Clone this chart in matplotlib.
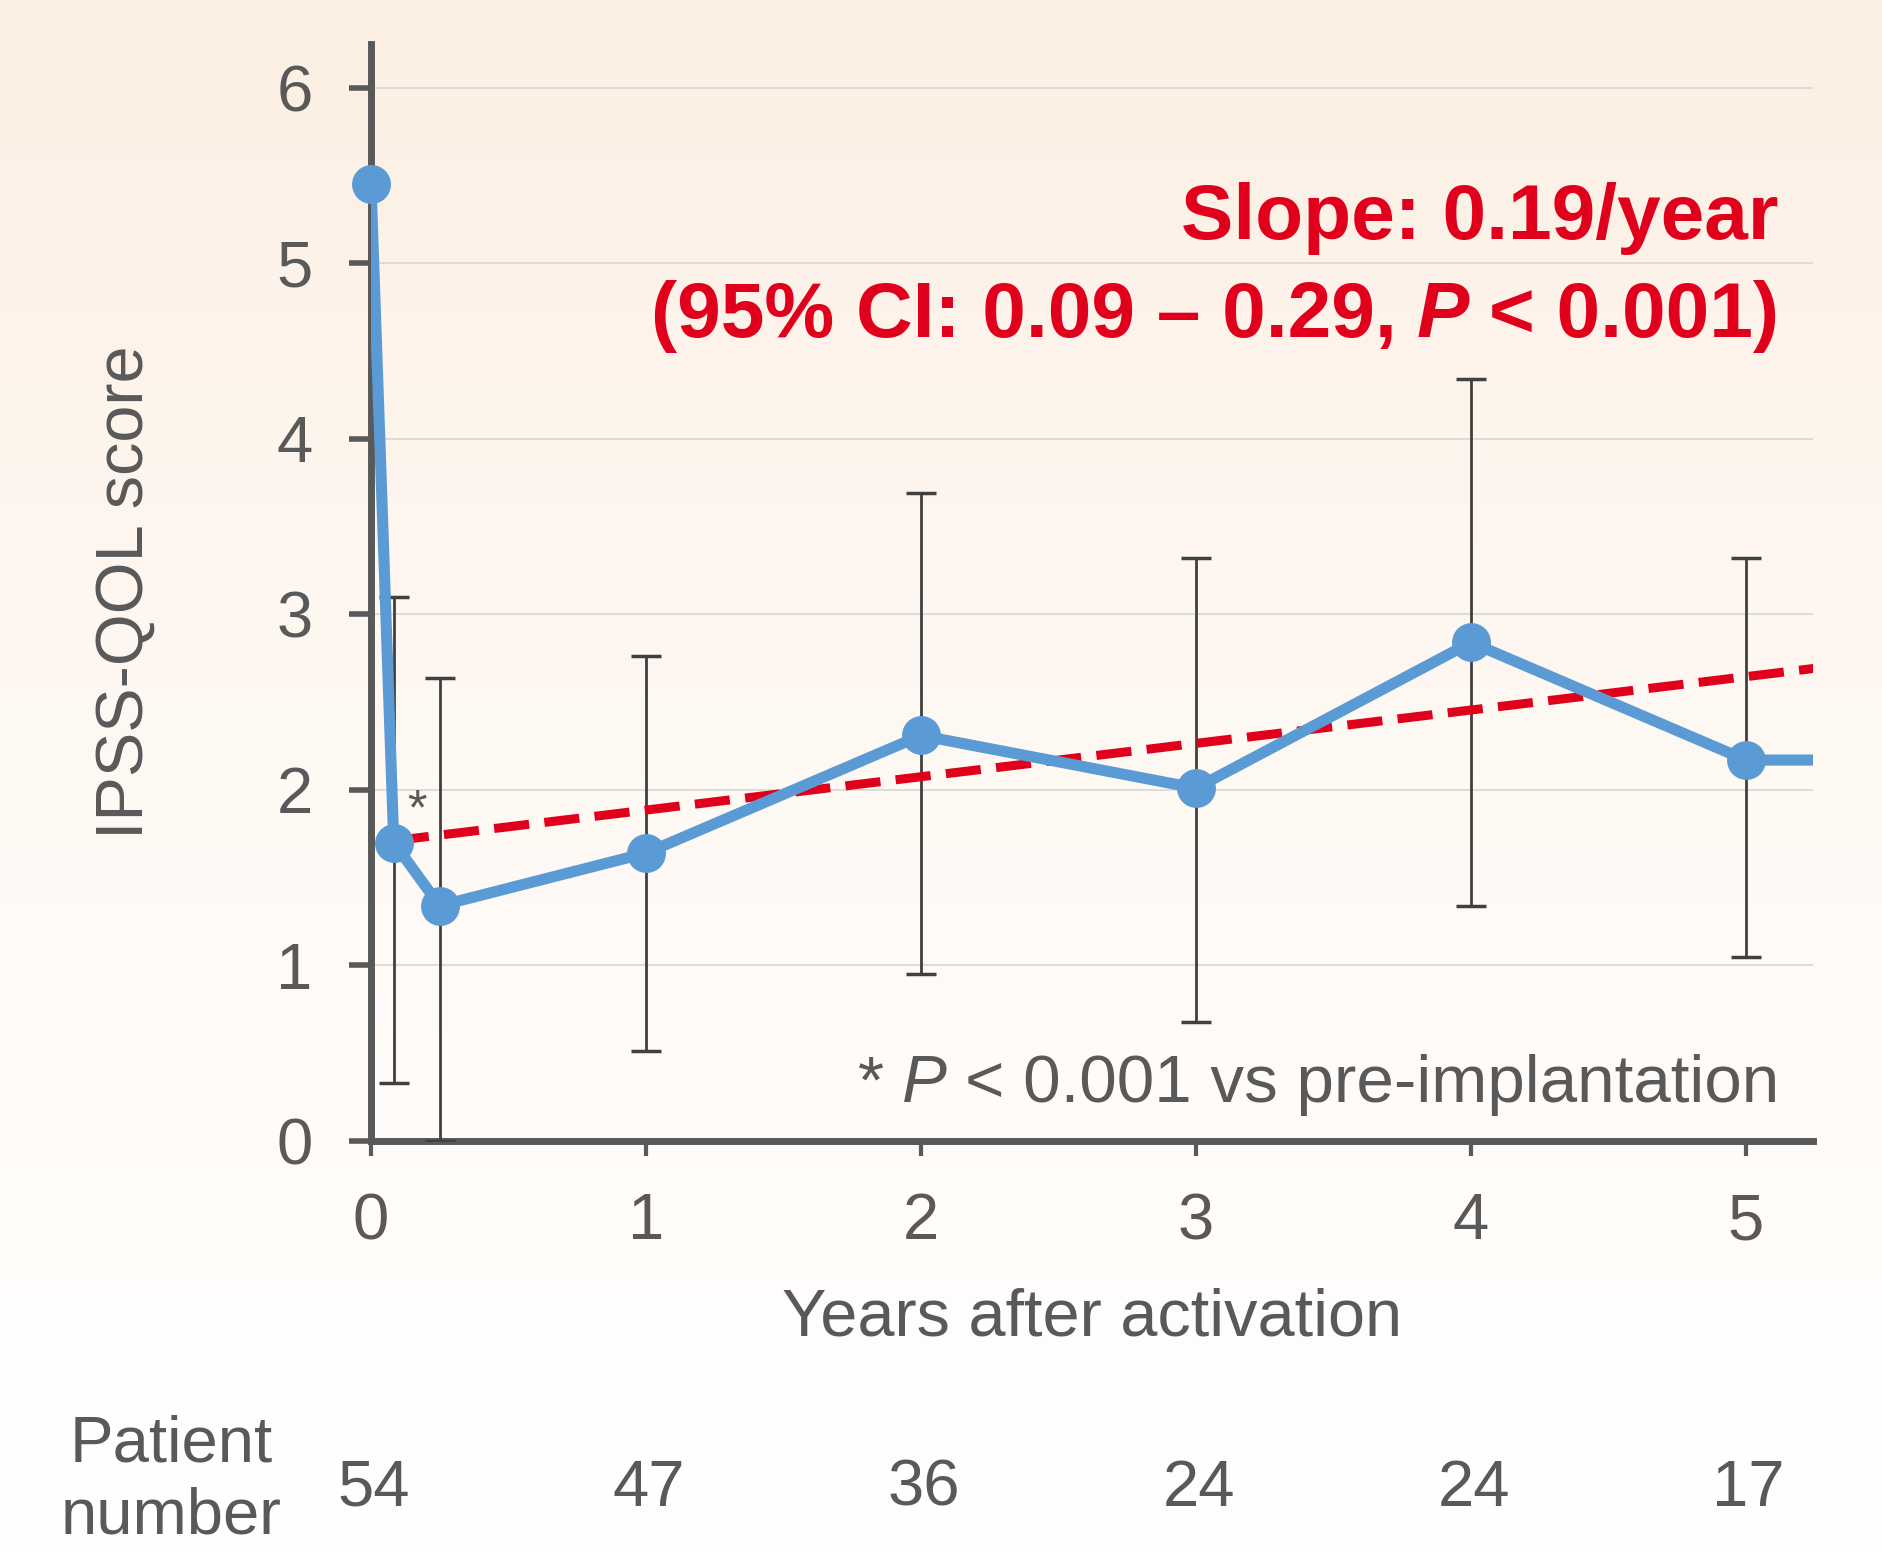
import numpy as np
import matplotlib
matplotlib.use("Agg")
from matplotlib import pyplot as plt
from matplotlib.colors import LinearSegmentedColormap
from matplotlib.transforms import offset_copy, blended_transform_factory

# data
years = [0, 0.083, 0.25, 1, 2, 3, 4, 5, 5.6]
score = [5.45, 1.70, 1.34, 1.64, 2.31, 2.01, 2.84, 2.17, 2.17]
err_hi = [np.nan, 3.10, 2.64, 2.76, 3.69, 3.32, 4.34, 3.32, np.nan]
err_lo = [np.nan, 0.33, 0.0, 0.51, 0.95, 0.68, 1.34, 1.05, np.nan]
trend_x = [0.083, 5.3]
slope, intercept = 0.19, 1.695
patient_years = [0, 1, 2, 3, 4, 5]
patient_n = ['54', '47', '36', '24', '24', '17']

plt.rcParams['font.family'] = ['Liberation Sans', 'DejaVu Sans']
gray = '#595959'
red = '#e0001b'
blue = '#5b9bd5'

fig = plt.figure(figsize=(18.83, 15.52), dpi=100)

# peach to white background
bg = fig.add_axes([0, 0, 1, 1], zorder=-10)
cmap = LinearSegmentedColormap.from_list('bg', ['#fcefe3', '#fff9f4', '#ffffff'])
bg.imshow(np.linspace(0, 1, 256).reshape(-1, 1), aspect='auto', cmap=cmap,
          extent=[0, 1, 0, 1])
bg.axis('off')

ax = fig.add_axes([0.197, 0.2648, 0.766, 0.707])
ax.patch.set_alpha(0)

xmax = 5.245
ax.set_xlim(0, xmax)
ax.set_ylim(0, 6.25)
ax.set_yticks(range(7))
ax.set_xticks(range(6))
ax.grid(axis='y', color='#d9d9d9', lw=1.3, zorder=0)
for s in ['top', 'right']:
    ax.spines[s].set_visible(False)
for s in ['left', 'bottom']:
    ax.spines[s].set_color(gray)
    ax.spines[s].set_linewidth(5)
ax.tick_params(axis='y', length=16, width=4, color=gray, labelsize=47,
               labelcolor=gray, pad=26)
ax.tick_params(axis='x', length=11, width=3, color=gray, labelsize=47,
               labelcolor=gray, pad=26)

yr = np.array(years)
sc = np.array(score)
lo = sc - np.array(err_lo)
hi = np.array(err_hi) - sc
ax.errorbar(yr, sc, yerr=[lo, hi], fmt='none', ecolor='#404040', elinewidth=2,
            capsize=11, capthick=2.5, zorder=3)

tx = np.array(trend_x)
ax.plot(tx, intercept + slope * tx, color=red, lw=6.5, ls=(0, (3.9, 1.7)),
        zorder=4)
ax.plot(yr, sc, color=blue, lw=8, zorder=5)
inside = yr <= xmax
ax.plot(yr[inside], sc[inside], ls='none', color=blue, marker='o', ms=27,
        zorder=6, clip_on=False)

ax.set_xlabel('Years after activation', fontsize=48, color=gray, va='center')
ax.xaxis.set_label_coords(0.5, -0.162)
ax.set_ylabel('IPSS-QOL score', fontsize=48, color=gray, va='center')
ax.yaxis.set_label_coords(-0.170, 0.5)

renderer = fig.canvas.get_renderer()


def chain_right(x, y, pieces, gap, **kw):
    off = 0
    for s, extra in reversed(pieces):
        tr = offset_copy(ax.transData, fig=fig, x=-off, y=0, units='dots')
        t = ax.text(x, y, s, transform=tr, ha='right', va='baseline', **kw, **extra)
        off += t.get_window_extent(renderer).width + gap


ax.text(5.12, 5.14, 'Slope: 0.19/year', color=red, fontsize=56.5,
        fontweight='bold', ha='right', va='baseline')
chain_right(5.12, 4.58, [('(95% CI: 0.09 \u2013 0.29,', {}),
                         ('P', {'style': 'italic'}),
                         ('< 0.001)', {})],
            gap=20, color=red, fontsize=56.5, fontweight='bold')
chain_right(5.12, 0.22, [('*', {}), ('P', {'style': 'italic'}),
                         ('< 0.001 vs pre-implantation', {})],
            gap=18, color=gray, fontsize=48.5)
ax.text(0.166, 1.88, '*', color=gray, fontsize=36, ha='center', va='center')

btr = blended_transform_factory(ax.transData, fig.transFigure)
for x, n in zip(patient_years, patient_n):
    ax.text(x + 0.01, 0.0406, n, transform=btr, ha='center', va='center',
            fontsize=47, color=gray, clip_on=False)
fig.text(0.091, 0.046, 'Patient\nnumber', ha='center', va='center',
         fontsize=47, color=gray, linespacing=1.25)

fig.savefig('out.png', dpi=100)
